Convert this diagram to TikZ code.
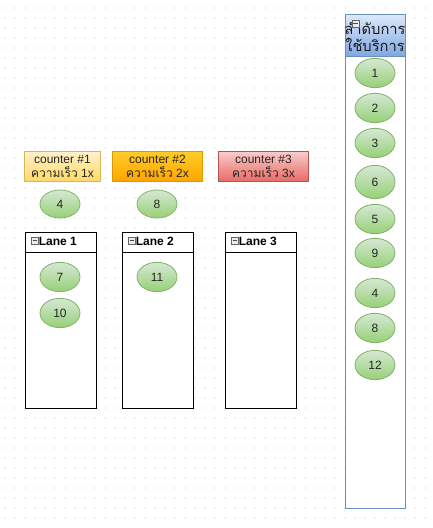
\documentclass[tikz,border=0pt]{standalone}
\usepackage{fontspec}
\setmainfont{Liberation Sans}
\newfontfamily\thai[Script=Thai]{Loma}
\usetikzlibrary{shapes.geometric}
\definecolor{grnB}{HTML}{82B366}
\definecolor{grnT}{HTML}{D5E8D4}
\definecolor{grnG}{HTML}{97D077}
\definecolor{bluB}{HTML}{6C8EBF}
\definecolor{bluT}{HTML}{DAE8FC}
\definecolor{bluG}{HTML}{7EA6E0}
\definecolor{yelB}{HTML}{D6B656}
\definecolor{yelT}{HTML}{FFF2CC}
\definecolor{yelG}{HTML}{FFD966}
\definecolor{orgB}{HTML}{D79B00}
\definecolor{orgT}{HTML}{FFCD28}
\definecolor{orgG}{HTML}{FFA500}
\definecolor{redB}{HTML}{B85450}
\definecolor{redT}{HTML}{F8CECC}
\definecolor{redG}{HTML}{EA6B66}
\definecolor{gridc}{HTML}{C4C4C4}
\begin{document}
\begin{tikzpicture}[x=0.75pt,y=-0.75pt,
  txt/.style={font=\fontsize{9}{11}\selectfont, text=black!85},
  ell/.style={ellipse, draw=grnB, line width=0.6pt, top color=grnT, bottom color=grnG, minimum width=30pt, minimum height=22pt, inner sep=0pt, txt},
  ctr/.style={rectangle, line width=0.6pt, minimum width=#1, minimum height=22.5pt, inner sep=0pt, align=center, txt, font=\fontsize{9}{10.5}\selectfont},
  lanebox/.style={draw=black, line width=0.75pt},
  icon/.style={draw=black!60, fill=black!8, line width=0.4pt, minimum size=5pt, inner sep=0pt}
]
\useasboundingbox (0,0) rectangle (432,528);
\fill[white] (0,0) rectangle (432,528);
% grid
\foreach \gx in {5,15,...,425} {
  \foreach \gy in {8,18,...,518} {
    \fill[gridc] (\gx,\gy) circle (0.4pt);
  }
}
% right pool
\draw[draw=bluB, line width=0.75pt, fill=white] (345,15) rectangle (405,508);
\shade[top color=bluT, bottom color=bluG] (345,15) rectangle (405,57);
\draw[draw=bluB, line width=0.75pt] (345,15) rectangle (405,508);
\draw[draw=bluB, line width=0.75pt] (345,57) -- (405,57);
\node[align=center, font=\thai\fontsize{11}{13}\selectfont, text=black!90] (ptitle) at (375,37) {ลำดับการ\\ใช้บริการ};
\node[icon] (picon) at (355.5,23.5) {};
\draw[black!70, line width=0.4pt] ([xshift=1pt]picon.west) -- ([xshift=-1pt]picon.east);
% queue ellipses
\node[ell] (q1) at (375,73) {1};
\node[ell] (q2) at (375,108) {2};
\node[ell] (q3) at (375,143) {3};
\node[ell, minimum height=25pt] (q6) at (375,182) {6};
\node[ell] (q5) at (375,219) {5};
\node[ell] (q9) at (375,253) {9};
\node[ell] (q4) at (375,293) {4};
\node[ell] (q8) at (375,328) {8};
\node[ell] (q12) at (375,365) {12};
% counters
\node[ctr=57pt, draw=yelB, top color=yelT, bottom color=yelG] (c1) at (62.5,166) {counter \#1\\{\thai ความเร็ว} 1x};
\node[ctr=68pt, draw=orgB, top color=orgT, bottom color=orgG] (c2) at (157.5,166) {counter \#2\\{\thai ความเร็ว} 2x};
\node[ctr=68pt, draw=redB, top color=redT, bottom color=redG] (c3) at (263.5,166) {counter \#3\\{\thai ความเร็ว} 3x};
\node[ell, minimum height=21pt] (s4) at (60,204) {4};
\node[ell, minimum height=21pt] (s8) at (157,204) {8};
% lanes
\foreach \lx/\n in {25/1,122/2,225/3} {
  \draw[lanebox, fill=white] (\lx,232) rectangle ({\lx+71},408);
  \draw[lanebox] (\lx,252) -- ({\lx+71},252);
  \node[icon] (li\n) at ({\lx+10},240.5) {};
  \draw[black!70, line width=0.4pt] ([xshift=1pt]li\n.west) -- ([xshift=-1pt]li\n.east);
  \node[anchor=west, inner sep=0pt, font=\bfseries\fontsize{9}{11}\selectfont] (lt\n) at ({\lx+13.5},241.5) {Lane \n};
}
\node[ell] (l7) at (60,277) {7};
\node[ell] (l10) at (60,313) {10};
\node[ell] (l11) at (157,277) {11};
\end{tikzpicture}
\end{document}
